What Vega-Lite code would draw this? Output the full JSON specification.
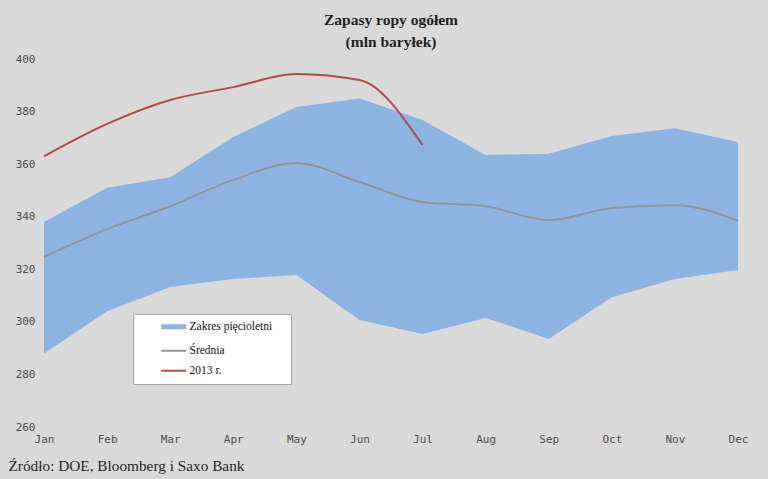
{
  "$schema": "https://vega.github.io/schema/vega-lite/v6.json",
  "autosize": {"type": "none"},
  "width": 694,
  "height": 368,
  "padding": {"left": 44, "top": 59, "right": 30, "bottom": 52},
  "background": "#d9d9d9",
  "title": {
    "text": ["Zapasy ropy ogółem", "(mln baryłek)"],
    "font": "Liberation Serif",
    "fontSize": 15.5,
    "fontWeight": "bold",
    "color": "#1f1f1f",
    "lineHeight": 22,
    "anchor": "middle",
    "offset": 3
  },
  "config": {
    "view": {"stroke": null},
    "axis": {
      "grid": false,
      "domain": false,
      "ticks": false,
      "labelFont": "DejaVu Sans Mono",
      "labelFontSize": 11,
      "labelColor": "#4d4d4d"
    },
    "legend": {
      "title": null,
      "orient": "none",
      "legendX": 89,
      "legendY": 255,
      "symbolType": "M-3,0H3",
      "symbolSize": 69,
      "symbolOffset": 28,
      "labelFont": "Liberation Serif",
      "labelFontSize": 11.5,
      "labelColor": "#111111",
      "labelOffset": 10,
      "rowPadding": 7,
      "padding": 7,
      "fillColor": "#ffffff",
      "strokeColor": "#a6a6a6"
    }
  },
  "datasets": {
    "months": [
      {"month": "Jan", "low": 288, "high": 338, "avg": 324.7},
      {"month": "Feb", "low": 304, "high": 351, "avg": 335.3},
      {"month": "Mar", "low": 313.3, "high": 355, "avg": 344},
      {"month": "Apr", "low": 316.3, "high": 370.3, "avg": 354},
      {"month": "May", "low": 317.8, "high": 381.7, "avg": 360.4},
      {"month": "Jun", "low": 300.7, "high": 385, "avg": 353.2},
      {"month": "Jul", "low": 295.4, "high": 376.8, "avg": 345.6},
      {"month": "Aug", "low": 301.5, "high": 363.5, "avg": 344},
      {"month": "Sep", "low": 293.5, "high": 364, "avg": 338.7},
      {"month": "Oct", "low": 309.4, "high": 370.7, "avg": 343.3},
      {"month": "Nov", "low": 316.3, "high": 373.7, "avg": 344.4},
      {"month": "Dec", "low": 319.7, "high": 368.4, "avg": 338.4}
    ],
    "y2013": [
      {"month": "Jan", "value": 363},
      {"month": "Feb", "value": 375.3},
      {"month": "Mar", "value": 384.4},
      {"month": "Apr", "value": 389.3},
      {"month": "May", "value": 394.3},
      {"month": "Jun", "value": 392},
      {"month": "Jul", "value": 367.3}
    ]
  },
  "layer": [
    {
      "data": {"name": "months"},
      "mark": {"type": "area", "opacity": 1},
      "encoding": {
        "x": {
          "field": "month",
          "type": "ordinal",
          "sort": null,
          "scale": {"type": "point", "padding": 0},
          "axis": {
            "labelAngle": 0,
            "labelPadding": 6,
            "title": "Źródło: DOE, Bloomberg i Saxo Bank",
            "titleFont": "Liberation Serif",
            "titleFontSize": 15.3,
            "titleFontWeight": "normal",
            "titleColor": "#262626",
            "titleAnchor": "start",
            "titleAlign": "left",
            "titleBaseline": "alphabetic",
            "titleX": -36,
            "titleY": 43
          }
        },
        "y": {
          "field": "high",
          "type": "quantitative",
          "scale": {"domain": [260, 400], "nice": false, "zero": false},
          "axis": {"values": [260, 280, 300, 320, 340, 360, 380, 400], "labelPadding": 9, "title": null}
        },
        "y2": {"field": "low"},
        "color": {
          "datum": "Zakres pięcioletni",
          "scale": {
            "domain": ["Zakres pięcioletni", "Średnia", "2013 r."],
            "range": ["#8db3e2", "#8f949b", "#b24a49"]
          },
          "legend": {
            "labelExpr": "datum.label + '\u00a0\u00a0\u00a0\u00a0\u200b'",
            "encode": {
              "symbols": {
                "update": {
                  "strokeWidth": {"signal": "datum.value === 'Zakres pięcioletni' ? 5 : 2"}
                }
              }
            }
          }
        }
      }
    },
    {
      "data": {"name": "months"},
      "mark": {"type": "line", "interpolate": "monotone", "strokeWidth": 2},
      "encoding": {
        "x": {"field": "month", "type": "ordinal", "sort": null},
        "y": {"field": "avg", "type": "quantitative"},
        "color": {
          "datum": "Średnia",
          "legend": {
            "labelExpr": "datum.label + '\u00a0\u00a0\u00a0\u00a0\u200b'",
            "encode": {
              "symbols": {
                "update": {
                  "strokeWidth": {"signal": "datum.value === 'Zakres pięcioletni' ? 5 : 2"}
                }
              }
            }
          }
        }
      }
    },
    {
      "data": {"name": "y2013"},
      "mark": {"type": "line", "interpolate": "monotone", "strokeWidth": 2},
      "encoding": {
        "x": {"field": "month", "type": "ordinal", "sort": null},
        "y": {"field": "value", "type": "quantitative"},
        "color": {
          "datum": "2013 r.",
          "legend": {
            "labelExpr": "datum.label + '\u00a0\u00a0\u00a0\u00a0\u200b'",
            "encode": {
              "symbols": {
                "update": {
                  "strokeWidth": {"signal": "datum.value === 'Zakres pięcioletni' ? 5 : 2"}
                }
              }
            }
          }
        }
      }
    }
  ]
}
